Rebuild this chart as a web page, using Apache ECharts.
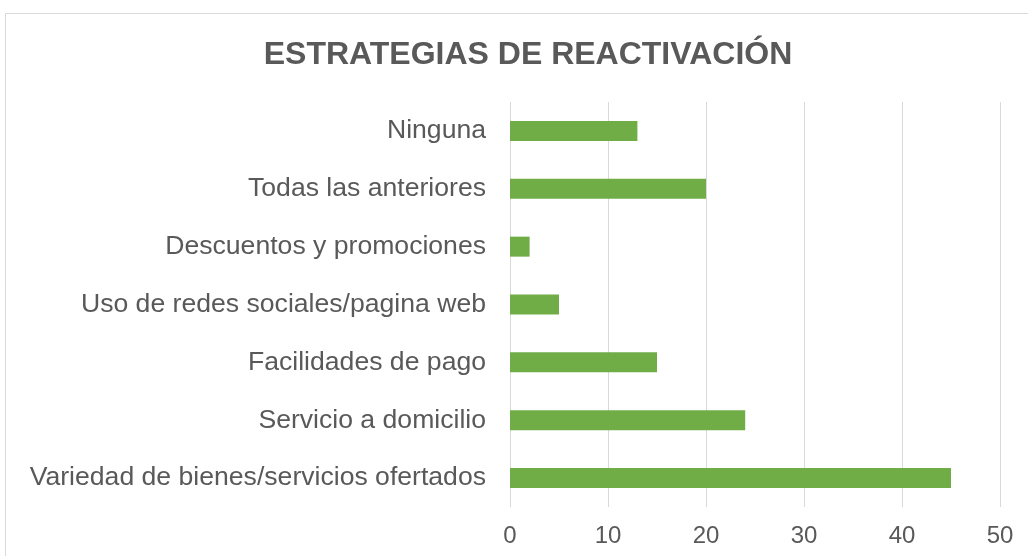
<!DOCTYPE html>
<html>
<head>
<meta charset="UTF-8">
<title>Estrategias de reactivación</title>
<script src="https://cdn.jsdelivr.net/npm/echarts@6/dist/echarts.min.js"></script>
<style>
  html, body { margin: 0; padding: 0; background: #fff; overflow: hidden; }
</style>
</head>
<body>
<div id="main" style="width: 1028px;height:556px;"></div>
<script type="text/javascript">
// categorias de abajo hacia arriba (como en el eje del grafico)
var categories = [
  'Variedad de bienes/servicios ofertados',
  'Servicio a domicilio',
  'Facilidades de pago',
  'Uso de redes sociales/pagina web',
  'Descuentos y promociones',
  'Todas las anteriores',
  'Ninguna'
];
var values = [45, 24, 15, 5, 2, 20, 13];
var xTicks = [0, 10, 20, 30, 40, 50];

var myChart = echarts.init(document.getElementById('main'));

var option = {
  animation: false,
  textStyle: { fontFamily: 'Liberation Sans, Arial, sans-serif' },
  graphic: [{
    type: 'rect',
    shape: { x: 5.5, y: 13.5, width: 1200, height: 700 },
    style: { fill: 'none', stroke: '#d9d9d9', lineWidth: 1 },
    silent: true
  }],
  title: {
    text: 'ESTRATEGIAS DE REACTIVACIÓN',
    left: 523,
    top: 34,
    textAlign: 'center',
    textStyle: { fontSize: 32, fontWeight: 'bold', color: '#595959' }
  },
  grid: { left: 510, right: 28, top: 102, bottom: 49 },
  xAxis: {
    type: 'value',
    min: xTicks[0],
    max: xTicks[xTicks.length - 1],
    interval: 10,
    axisLine: { show: false },
    axisTick: { show: false },
    axisLabel: { fontSize: 24, color: '#595959', margin: 17 },
    splitLine: { show: true, lineStyle: { color: '#d9d9d9', width: 1 } }
  },
  yAxis: {
    type: 'category',
    data: categories,
    axisLine: { show: false },
    axisTick: { show: false },
    axisLabel: { fontSize: 26.6, color: '#595959', margin: 24 }
  },
  series: [{
    type: 'bar',
    data: values,
    barWidth: 20,
    itemStyle: { color: '#70ad47' }
  }]
};

myChart.setOption(option);
</script>
</body>
</html>
